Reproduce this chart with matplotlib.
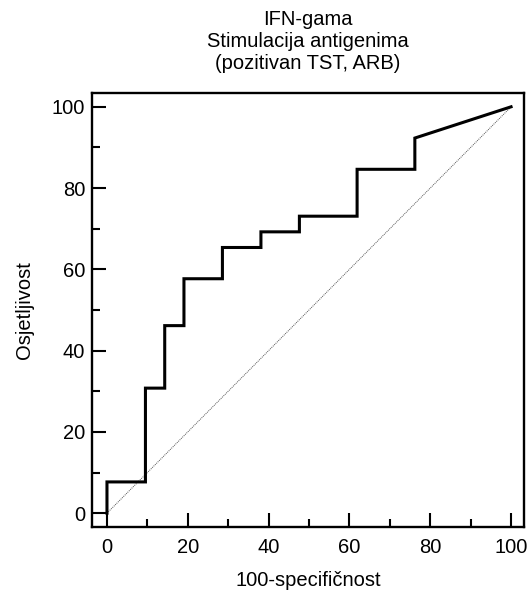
import matplotlib
matplotlib.use("Agg")
import matplotlib.pyplot as plt
from matplotlib.ticker import MultipleLocator

# ROC curve vertices (100-specificity, sensitivity), in percent
fpr = [0, 0, 9.52, 9.52, 14.29, 14.29, 19.05, 19.05, 28.57, 28.57, 38.10, 38.10,
       47.62, 47.62, 61.90, 61.90, 76.19, 76.19, 100]
tpr = [0, 7.69, 7.69, 30.77, 30.77, 46.15, 46.15, 57.69, 57.69, 65.38, 65.38, 69.23,
       69.23, 73.08, 73.08, 84.62, 84.62, 92.31, 100]

title = "IFN-gama\nStimulacija antigenima\n(pozitivan TST, ARB)"
xlabel = "100-specifičnost"
ylabel = "Osjetljivost"

plt.rcParams["font.family"] = ["Liberation Sans", "DejaVu Sans"]
fs = 14.5

fig = plt.figure(figsize=(5.31, 5.90), dpi=100)
ax = fig.add_axes([0.1733, 0.1068, 0.8135, 0.7356])

ax.plot([0, 100], [0, 100], color="#555555", lw=0.7, ls=(0, (1, 1)))
ax.plot(fpr, tpr, color="black", lw=2.2, solid_joinstyle="miter")

ax.set_xlim(-3.7, 103.2)
ax.set_ylim(-3.4, 103.4)
ax.xaxis.set_major_locator(MultipleLocator(20))
ax.xaxis.set_minor_locator(MultipleLocator(10))
ax.yaxis.set_major_locator(MultipleLocator(20))
ax.yaxis.set_minor_locator(MultipleLocator(10))
ax.tick_params(which="both", direction="in", width=1.5, labelsize=fs)
ax.tick_params(which="major", length=10)
ax.tick_params(which="minor", length=6)
ax.tick_params(axis="x", pad=8)
ax.tick_params(axis="y", pad=5)
for s in ax.spines.values():
    s.set_linewidth(1.7)

ax.set_title(title, fontsize=fs, pad=17, linespacing=1.2)
ax.set_xlabel(xlabel, fontsize=fs, labelpad=10)
ax.set_ylabel(ylabel, fontsize=fs, labelpad=13)

fig.savefig("out.png", dpi=100)
